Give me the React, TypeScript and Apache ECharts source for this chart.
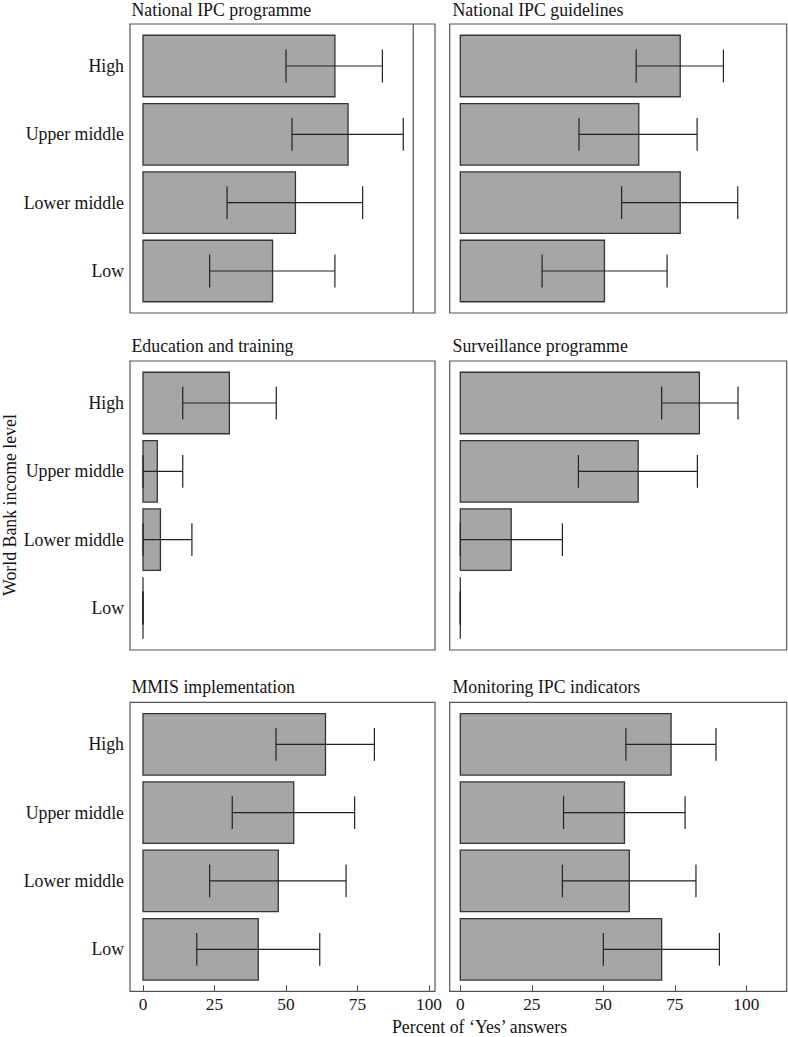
import React, { useEffect, useRef } from "react";
import * as echarts from "echarts";

const categories = ["High", "Upper middle", "Lower middle", "Low"];
const panelTitles = [
  "National IPC programme",
  "National IPC guidelines",
  "Education and training",
  "Surveillance programme",
  "MMIS implementation",
  "Monitoring IPC indicators",
];
const xTicks = [0, 25, 50, 75, 100];

const programmeMean = [67.1, 71.7, 53.3, 45.3];
const programmeLower = [50.0, 52.1, 29.4, 23.3];
const programmeUpper = [83.7, 91.0, 76.8, 67.1];
const programmeRefLine = 94.5;

const guidelinesMean = [76.9, 62.4, 76.9, 50.4];
const guidelinesLower = [61.5, 41.5, 56.4, 28.6];
const guidelinesUpper = [92.0, 82.8, 97.0, 72.3];

const educationMean = [30.2, 5.0, 6.1, 0];
const educationLower = [13.9, 0, 0, 0];
const educationUpper = [46.6, 13.9, 17.1, 0];

const surveillanceMean = [83.6, 62.2, 17.8, 0];
const surveillanceLower = [70.4, 41.3, 0, 0];
const surveillanceUpper = [97.1, 82.9, 35.7, 0];

const mmisMean = [63.8, 52.7, 47.3, 40.3];
const mmisLower = [46.5, 31.2, 23.3, 18.8];
const mmisUpper = [80.9, 74.0, 71.0, 61.8];

const monitoringMean = [73.7, 57.4, 59.1, 70.4];
const monitoringLower = [57.9, 36.1, 35.7, 50.0];
const monitoringUpper = [89.4, 78.6, 82.4, 90.6];

const panelMeans = [programmeMean, guidelinesMean, educationMean, surveillanceMean, mmisMean, monitoringMean];
const panelLowers = [programmeLower, guidelinesLower, educationLower, surveillanceLower, mmisLower, monitoringLower];
const panelUppers = [programmeUpper, guidelinesUpper, educationUpper, surveillanceUpper, mmisUpper, monitoringUpper];

const FONT = "Liberation Serif";
const TEXT = "#141414";
const FS = 17.8;

export default function App() {
  const ref = useRef<HTMLDivElement>(null);
  useEffect(() => {
    if (!ref.current) return;
    const chart = echarts.init(ref.current, null, { renderer: "svg" });

    const gridLefts = [143, 460.3];
    const gridWidth = 286;
    const boxLefts = [130, 449.7];
    const boxRights = [435, 786.7];
    const boxTops = [24, 361, 702.3];
    const boxHeight = 289;
    const padY = 7.85;
    const titleYs = [9.5, 345.5, 687];

    const grids: any[] = [];
    const xAxes: any[] = [];
    const yAxes: any[] = [];
    const series: any[] = [];
    const graphics: any[] = [];

    for (let i = 0; i < 6; i++) {
      const row = Math.floor(i / 2);
      const col = i % 2;
      const gTop = boxTops[row] + padY;
      const gHeight = boxHeight - 2 * padY;
      grids.push({
        left: gridLefts[col],
        top: gTop,
        width: gridWidth,
        height: gHeight,
        containLabel: false,
      });
      const bottomRow = row === 2;
      xAxes.push({
        type: "value",
        gridIndex: i,
        min: 0,
        max: 100,
        interval: 25,
        offset: padY,
        splitLine: { show: false },
        axisLine: { show: false },
        axisTick: {
          show: bottomRow,
          inside: true,
          length: 6,
          lineStyle: { color: "#444", width: 1 },
        },
        axisLabel: {
          show: bottomRow,
          margin: 5,
          fontFamily: FONT,
          fontSize: 17.3,
          color: TEXT,
          customValues: xTicks,
        },
      });
      yAxes.push({
        type: "category",
        gridIndex: i,
        data: categories,
        inverse: true,
        axisLine: { show: false },
        axisTick: { show: false },
        splitLine: { show: false },
        axisLabel: {
          show: col === 0,
          margin: 19,
          fontFamily: FONT,
          fontSize: FS,
          color: TEXT,
        },
      });
      const data = categories.map((_, k) => [
        panelMeans[i][k],
        k,
        panelLowers[i][k],
        panelUppers[i][k],
      ]);
      series.push({
        type: "custom",
        xAxisIndex: i,
        yAxisIndex: i,
        encode: { x: 0, y: 1 },
        clip: false,
        data,
        renderItem: (params: any, api: any) => {
          const v = api.value(0);
          const cat = api.value(1);
          const lo = api.value(2);
          const hi = api.value(3);
          const band = api.size([0, 1])[1];
          const h = band * 0.9;
          const p0 = api.coord([0, cat]);
          const p1 = api.coord([v, cat]);
          const pl = api.coord([lo, cat]);
          const ph = api.coord([hi, cat]);
          const capH = band * 0.24;
          const cy = p0[1];
          const children: any[] = [];
          const w = p1[0] - p0[0];
          if (w > 0.5) {
            children.push({
              type: "rect",
              shape: { x: p0[0], y: cy - h / 2, width: w, height: h },
              style: { fill: "#a6a6a8", stroke: "#333333", lineWidth: 1.3 },
            });
          } else {
            children.push({
              type: "line",
              shape: { x1: p0[0], y1: cy - h / 2, x2: p0[0], y2: cy + h / 2 },
              style: { stroke: "#333333", lineWidth: 1.3 },
            });
          }
          const errStyle = { stroke: "#222222", lineWidth: 1.2 };
          children.push({
            type: "line",
            shape: { x1: pl[0], y1: cy, x2: ph[0], y2: cy },
            style: errStyle,
          });
          children.push({
            type: "line",
            shape: { x1: pl[0], y1: cy - capH, x2: pl[0], y2: cy + capH },
            style: errStyle,
          });
          children.push({
            type: "line",
            shape: { x1: ph[0], y1: cy - capH, x2: ph[0], y2: cy + capH },
            style: errStyle,
          });
          return { type: "group", children };
        },
      });

      graphics.push({
        type: "rect",
        shape: {
          x: boxLefts[col],
          y: boxTops[row],
          width: boxRights[col] - boxLefts[col],
          height: boxHeight,
        },
        style: { fill: "none", stroke: "#555555", lineWidth: 1.2 },
        z: 10,
      });
      graphics.push({
        type: "text",
        x: col === 0 ? 131.5 : 452.5,
        y: titleYs[row],
        style: {
          text: panelTitles[i],
          fontFamily: FONT,
          fontSize: FS,
          fill: TEXT,
          verticalAlign: "middle",
          align: "left",
        },
      });
    }

    // reference vertical line in the first panel
    const refX = gridLefts[0] + (programmeRefLine / 100) * gridWidth;
    graphics.push({
      type: "line",
      shape: { x1: refX, y1: boxTops[0], x2: refX, y2: boxTops[0] + boxHeight },
      style: { stroke: "#555555", lineWidth: 1.2 },
      z: 10,
    });

    graphics.push({
      type: "text",
      x: 9.5,
      y: 505,
      rotation: Math.PI / 2,
      style: {
        text: "World Bank income level",
        fontFamily: FONT,
        fontSize: FS,
        fill: TEXT,
        align: "center",
        verticalAlign: "middle",
      },
    });
    graphics.push({
      type: "text",
      x: 479.5,
      y: 1026.5,
      style: {
        text: "Percent of \u2018Yes\u2019 answers",
        fontFamily: FONT,
        fontSize: FS,
        fill: TEXT,
        align: "center",
        verticalAlign: "middle",
      },
    });

    chart.setOption({
      animation: false,
      backgroundColor: "#ffffff",
      textStyle: { fontFamily: FONT },
      grid: grids,
      xAxis: xAxes,
      yAxis: yAxes,
      series,
      graphic: { elements: graphics },
    });
    return () => chart.dispose();
  }, []);
  return (
    <div
      ref={ref}
      style={{ position: "fixed", left: 0, top: 0, width: 788, height: 1037 }}
    />
  );
}
